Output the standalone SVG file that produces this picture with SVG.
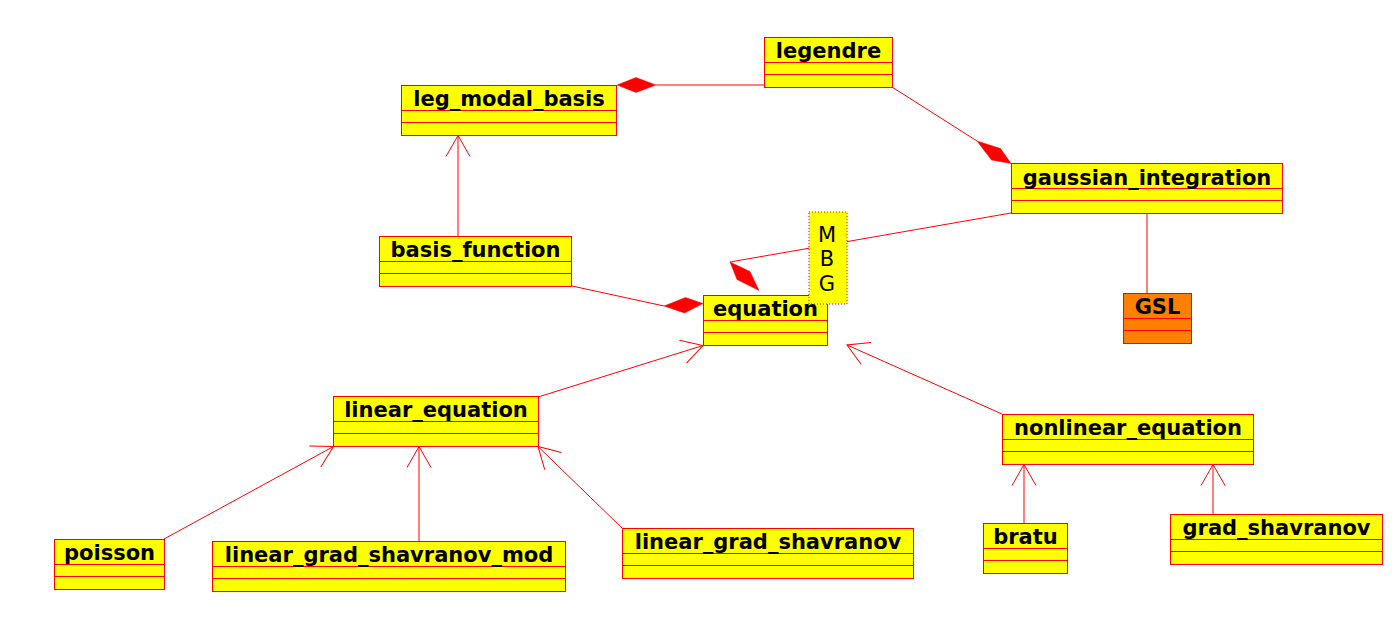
<svg xmlns="http://www.w3.org/2000/svg" width="1396" height="621" viewBox="0 0 1396 621">
<style>
.box{fill:#ffff00;stroke:#ff0000;stroke-width:1}
.gsl{fill:#ff8000;stroke:#ff0000;stroke-width:1}
.sep{stroke:#ff0000;stroke-width:1}
.t{font-family:"DejaVu Sans","Liberation Sans",sans-serif;font-weight:bold;font-size:21px;fill:#000;text-anchor:middle}
.n{font-family:"DejaVu Sans","Liberation Sans",sans-serif;font-size:21px;fill:#000;text-anchor:middle}
.c{stroke:#ff0000;stroke-width:1;fill:none}
.dia{fill:#ff0000;stroke:#ff0000;stroke-width:0.5}
.note{fill:#ffff00;stroke:#ff0000;stroke-width:1;stroke-dasharray:1,2}
</style>
<defs>
<marker id="open" markerUnits="userSpaceOnUse" markerWidth="30" markerHeight="30" refX="0" refY="0" orient="auto" overflow="visible">
<path d="M-21,-12 L0,0 L-21,12" fill="none" stroke="#ff0000" stroke-width="1"/>
</marker>
</defs>
<rect width="1396" height="621" fill="#ffffff"/>

<g id="connectors">
<line class="c" x1="764" y1="85" x2="656" y2="85"/>
<polygon class="dia" points="617,85 636,77.5 656,85 636,92.5"/>
<line class="c" x1="892" y1="87" x2="977" y2="141"/>
<polygon class="dia" points="977,141 1000.5,148.5 1011,163.5 991.5,160"/>
<line class="c" x1="1011" y1="213" x2="730" y2="262"/>
<polygon class="dia" points="730,262 750,271.5 759,290.5 737,279.5"/>
<line class="c" x1="1147" y1="213" x2="1147" y2="293"/>
<line class="c" x1="458" y1="236" x2="458" y2="135.5" marker-end="url(#open)"/>
<line class="c" x1="572" y1="286" x2="664" y2="306"/>
<polygon class="dia" points="664,306 685.5,297.5 703,303.5 684.5,313"/>
<line class="c" x1="538" y1="397" x2="703" y2="345.5" marker-end="url(#open)"/>
<line class="c" x1="1002" y1="414" x2="847" y2="345" marker-end="url(#open)"/>
<line class="c" x1="164" y1="539" x2="333.5" y2="446.5" marker-end="url(#open)"/>
<line class="c" x1="419" y1="541" x2="419" y2="446.5" marker-end="url(#open)"/>
<line class="c" x1="622" y1="528" x2="538" y2="446.5" marker-end="url(#open)"/>
<line class="c" x1="1024" y1="523" x2="1024" y2="464.5" marker-end="url(#open)"/>
<line class="c" x1="1213" y1="514" x2="1213" y2="464.5" marker-end="url(#open)"/>
</g>

<g id="legendre">
<rect class="box" x="764.5" y="37.5" width="128" height="50"/>
<line class="sep" x1="764.5" y1="62.5" x2="892.5" y2="62.5"/>
<line class="sep" x1="764.5" y1="74.5" x2="892.5" y2="74.5"/>
<text class="t" x="828.5" y="58">legendre</text>
</g>

<g id="leg_modal_basis">
<rect class="box" x="401.5" y="85.5" width="215" height="50"/>
<line class="sep" x1="401.5" y1="110.5" x2="616.5" y2="110.5"/>
<line class="sep" x1="401.5" y1="122.5" x2="616.5" y2="122.5"/>
<text class="t" x="509" y="106">leg_modal_basis</text>
</g>

<g id="gaussian_integration">
<rect class="box" x="1011.5" y="163.5" width="271" height="50"/>
<line class="sep" x1="1011.5" y1="188.5" x2="1282.5" y2="188.5"/>
<line class="sep" x1="1011.5" y1="200.5" x2="1282.5" y2="200.5"/>
<text class="t" x="1147" y="184.5">gaussian_integration</text>
</g>

<g id="basis_function">
<rect class="box" x="379.5" y="236.5" width="192" height="50"/>
<line class="sep" x1="379.5" y1="261.5" x2="571.5" y2="261.5"/>
<line class="sep" x1="379.5" y1="273.5" x2="571.5" y2="273.5"/>
<text class="t" x="475.5" y="257">basis_function</text>
</g>

<g id="equation">
<rect class="box" x="703.5" y="295.5" width="124" height="50"/>
<line class="sep" x1="703.5" y1="320.5" x2="827.5" y2="320.5"/>
<line class="sep" x1="703.5" y1="332.5" x2="827.5" y2="332.5"/>
<text class="t" x="765.5" y="316">equation</text>
</g>

<g id="MBG">
<rect class="note" x="809" y="212" width="38" height="92"/>
<text class="n" x="827" y="241.5">M</text>
<text class="n" x="827" y="266">B</text>
<text class="n" x="827" y="290.5">G</text>
</g>

<g id="GSL">
<rect class="gsl" x="1123.5" y="293.5" width="68" height="50"/>
<line class="sep" x1="1123.5" y1="318.5" x2="1191.5" y2="318.5"/>
<line class="sep" x1="1123.5" y1="330.5" x2="1191.5" y2="330.5"/>
<text class="t" x="1157.5" y="314">GSL</text>
</g>

<g id="linear_equation">
<rect class="box" x="333.5" y="396.5" width="205" height="50"/>
<line class="sep" x1="333.5" y1="421.5" x2="538.5" y2="421.5"/>
<line class="sep" x1="333.5" y1="433.5" x2="538.5" y2="433.5"/>
<text class="t" x="436" y="417">linear_equation</text>
</g>

<g id="nonlinear_equation">
<rect class="box" x="1002.5" y="414.5" width="251" height="50"/>
<line class="sep" x1="1002.5" y1="439.5" x2="1253.5" y2="439.5"/>
<line class="sep" x1="1002.5" y1="451.5" x2="1253.5" y2="451.5"/>
<text class="t" x="1128" y="435">nonlinear_equation</text>
</g>

<g id="poisson">
<rect class="box" x="54.5" y="539.5" width="110" height="50"/>
<line class="sep" x1="54.5" y1="564.5" x2="164.5" y2="564.5"/>
<line class="sep" x1="54.5" y1="576.5" x2="164.5" y2="576.5"/>
<text class="t" x="109.5" y="560">poisson</text>
</g>

<g id="linear_grad_shavranov_mod">
<rect class="box" x="212.5" y="541.5" width="353" height="50"/>
<line class="sep" x1="212.5" y1="566.5" x2="565.5" y2="566.5"/>
<line class="sep" x1="212.5" y1="578.5" x2="565.5" y2="578.5"/>
<text class="t" x="389" y="562">linear_grad_shavranov_mod</text>
</g>

<g id="linear_grad_shavranov">
<rect class="box" x="622.5" y="528.5" width="291" height="50"/>
<line class="sep" x1="622.5" y1="553.5" x2="913.5" y2="553.5"/>
<line class="sep" x1="622.5" y1="565.5" x2="913.5" y2="565.5"/>
<text class="t" x="768" y="549">linear_grad_shavranov</text>
</g>

<g id="bratu">
<rect class="box" x="983.5" y="523.5" width="84" height="50"/>
<line class="sep" x1="983.5" y1="548.5" x2="1067.5" y2="548.5"/>
<line class="sep" x1="983.5" y1="560.5" x2="1067.5" y2="560.5"/>
<text class="t" x="1025.5" y="544">bratu</text>
</g>

<g id="grad_shavranov">
<rect class="box" x="1170.5" y="514.5" width="212" height="50"/>
<line class="sep" x1="1170.5" y1="539.5" x2="1382.5" y2="539.5"/>
<line class="sep" x1="1170.5" y1="551.5" x2="1382.5" y2="551.5"/>
<text class="t" x="1276.5" y="535">grad_shavranov</text>
</g>
</svg>
